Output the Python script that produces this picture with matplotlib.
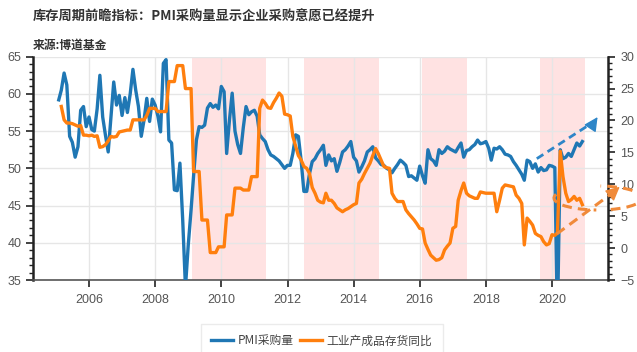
import numpy as np
import pandas as pd
import matplotlib
matplotlib.use("Agg")
import matplotlib.pyplot as plt
import matplotlib.dates as mdates
from matplotlib.ticker import MultipleLocator
from matplotlib.patches import Arc
from matplotlib.transforms import IdentityTransform

plt.rcParams['font.family'] = ['Liberation Sans', 'Noto Sans CJK SC', 'DejaVu Sans']

# PMI采购量, monthly Jan 2005 - Nov 2020
pmi_purchase = [
    59.2, 60.5, 62.8, 61.2, 54.3, 53.5, 51.5, 52.9, 57.8, 58.3, 55.6, 56.9,   # 2005
    55.2, 55.0, 58.0, 62.5, 56.9, 54.5, 52.2, 57.0, 61.6, 58.5, 59.8, 57.1,   # 2006
    59.5, 57.5, 60.0, 63.3, 60.5, 58.3, 54.3, 56.5, 59.4, 56.3, 59.3, 58.5,   # 2007
    57.0, 54.9, 64.1, 64.6, 53.8, 53.4, 47.1, 47.0, 50.7, 43.0, 34.0, 39.7,   # 2008
    44.4, 49.0, 53.8, 55.6, 55.5, 55.8, 58.1, 58.7, 58.2, 58.5, 58.0, 61.0,   # 2009
    60.3, 52.0, 56.5, 60.1, 55.0, 53.2, 52.0, 55.5, 58.3, 57.2, 57.6, 57.8,   # 2010
    57.0, 54.5, 54.0, 53.6, 52.5, 51.8, 51.6, 51.3, 51.0, 50.5, 50.0, 50.4,   # 2011
    50.4, 52.0, 54.5, 54.3, 51.0, 46.9, 46.9, 49.3, 50.9, 51.3, 52.0, 52.5,   # 2012
    53.1, 50.4, 51.8, 51.0, 51.3, 49.6, 50.8, 52.2, 52.5, 53.0, 53.6, 51.5,   # 2013
    51.0, 49.5, 50.2, 51.0, 52.2, 52.5, 52.9, 51.4, 51.0, 50.5, 50.4, 50.0,   # 2014
    49.8, 49.4, 50.0, 50.5, 51.1, 50.8, 50.4, 48.9, 49.0, 48.7, 48.4, 50.3,   # 2015
    49.0, 48.0, 52.5, 51.3, 51.0, 50.4, 52.5, 52.0, 52.3, 52.9, 52.6, 52.4,   # 2016
    52.2, 52.8, 53.4, 51.5, 52.4, 52.5, 52.9, 53.2, 53.8, 53.3, 53.4, 53.6,   # 2017
    52.7, 51.1, 52.7, 52.6, 52.9, 52.5, 51.9, 51.8, 51.6, 50.9, 50.4, 49.8,   # 2018
    49.2, 48.4, 51.1, 50.9, 50.0, 50.6, 49.5, 50.1, 49.7, 49.8, 50.4, 50.3,   # 2019
    50.1, 29.3, 52.5, 51.3, 51.5, 52.0, 51.6, 52.5, 53.4, 53.0, 53.6,         # 2020
]

# 工业产成品存货同比 (%), monthly Feb 2005 - Nov 2020
inventory_yoy = [
    22.2, 20.1, 19.6, 19.6, 19.5, 19.3, 19.1, 19.2, 17.7, 17.7, 17.6,         # 2005
    17.7, 17.5, 17.6, 15.8, 15.9, 16.2, 16.8, 17.5, 17.4, 17.5, 18.2, 18.3,   # 2006
    18.4, 18.5, 18.5, 20.1, 20.1, 20.1, 20.1, 20.1, 20.8, 21.9, 21.9, 21.9,   # 2007
    21.4, 21.4, 21.4, 21.4, 26.1, 26.1, 26.1, 28.6, 28.6, 28.6, 25.0, 25.0,   # 2008
    25.0, 12.0, 12.0, 12.0, 4.4, 4.4, 4.4, -0.7, -0.7, -0.7, 0.2, 0.2,        # 2009
    0.2, 5.2, 5.2, 5.2, 9.4, 9.4, 9.4, 9.1, 9.1, 9.1, 11.2, 11.2,             # 2010
    11.2, 21.9, 23.2, 22.7, 22.0, 21.9, 22.8, 23.5, 24.3, 23.8, 21.0, 20.9,   # 2011
    20.7, 17.5, 16.0, 14.5, 13.8, 12.8, 12.5, 11.7, 9.5, 8.6, 7.5, 7.2,       # 2012
    7.1, 8.6, 7.5, 7.5, 7.0, 6.3, 6.0, 5.7, 6.0, 6.2, 6.5, 6.8,               # 2013
    7.0, 10.2, 10.8, 11.7, 12.5, 13.3, 14.5, 15.6, 14.8, 13.8, 12.8, 12.6,    # 2014
    12.5, 8.6, 7.8, 7.3, 7.3, 7.3, 6.0, 5.4, 4.9, 4.4, 3.8, 3.1,              # 2015
    3.0, 0.8, -0.2, -1.1, -1.5, -1.9, -1.8, -1.5, -0.3, 0.3, 0.8, 3.1,        # 2016
    3.4, 7.5, 9.0, 10.2, 8.6, 8.2, 8.0, 7.8, 7.8, 8.8, 8.7, 8.6,              # 2017
    8.6, 8.6, 8.6, 5.7, 7.5, 9.4, 9.9, 9.8, 9.7, 9.6, 8.3, 7.8,               # 2018
    7.0, 0.5, 4.7, 4.2, 3.6, 2.3, 2.0, 1.8, 1.0, 0.5, 0.7, 2.1,               # 2019
    2.0, 2.4, 15.2, 11.2, 8.6, 7.3, 7.6, 8.1, 7.5, 7.8, 6.8,                  # 2020
]

pmi_dates = pd.date_range("2005-01-31", periods=len(pmi_purchase), freq="ME")
inv_dates = pd.date_range("2005-02-28", periods=len(inventory_yoy), freq="ME")

# shaded phases
periods = [("2009-02-15", "2011-05-05"), ("2012-07-01", "2014-10-05"),
           ("2016-01-25", "2017-06-01"), ("2019-08-20", "2020-12-28")]

title = "库存周期前瞻指标：PMI采购量显示企业采购意愿已经提升"
source = "来源:博道基金"
label_pmi = "PMI采购量"
label_inv = "工业产成品存货同比"

BLUE = "#1f77b4"
ORANGE = "#ff7f0e"
ARROW_BLUE = "#2e86c8"
ARROW_ORANGE = "#f08a3a"
TICK = "#555555"
CJK = ["Noto Sans CJK SC", "DejaVu Sans"]

fig = plt.figure(figsize=(6.37, 3.52), dpi=100)
ax = fig.add_axes([0.0523, 0.2045, 0.9027, 0.6345])
ax2 = ax.twinx()

for start, end in periods:
    ax.axvspan(pd.Timestamp(start), pd.Timestamp(end), color="#ffd6d6", alpha=0.7, lw=0, zorder=0)

ax.grid(True, color="#e6e6e6", lw=1, zorder=1)
ax.set_axisbelow(True)

l1, = ax.plot(pmi_dates, pmi_purchase, color=BLUE, lw=2.4, zorder=3, label=label_pmi)
l2, = ax2.plot(inv_dates, inventory_yoy, color=ORANGE, lw=2.4, zorder=3, label=label_inv)

ax.set_xlim(pd.Timestamp("2004-04-25"), pd.Timestamp("2021-09-13"))
ax.set_ylim(35, 65)
ax2.set_ylim(-5, 30)

ax.xaxis.set_major_locator(mdates.YearLocator(2))
ax.xaxis.set_major_formatter(mdates.DateFormatter("%Y"))
ax.yaxis.set_major_locator(MultipleLocator(5))
ax.yaxis.set_minor_locator(MultipleLocator(1))
ax2.yaxis.set_major_locator(MultipleLocator(5))
ax2.yaxis.set_minor_locator(MultipleLocator(1))

for a in (ax, ax2):
    a.tick_params(axis="both", which="major", labelsize=9, colors="#222222",
                  labelcolor=TICK, length=5, width=1.2)
    a.tick_params(axis="y", which="minor", length=3, width=1, colors="#222222")
    a.spines["top"].set_visible(False)
ax.tick_params(axis="x", pad=5)
ax.spines["left"].set_color("#222222")
ax.spines["left"].set_linewidth(1.8)
ax.spines["bottom"].set_color("#555555")
ax.spines["bottom"].set_linewidth(1.2)
ax.spines["right"].set_visible(False)
ax2.spines["left"].set_visible(False)
ax2.spines["bottom"].set_visible(False)
ax2.spines["right"].set_color("#222222")
ax2.spines["right"].set_linewidth(1.8)

head = "-|>,head_length=0.7,head_width=0.35"

# dashed trend arrows
ax.plot([pd.Timestamp("2019-07-16"), pd.Timestamp("2021-04-25")], [51.3, 56.4],
        color=ARROW_BLUE, lw=2, ls=(0, (2.8, 1.8)), clip_on=False, zorder=5)
ax.annotate("", xy=(pd.Timestamp("2021-06-03"), 57.2), xytext=(pd.Timestamp("2021-04-15"), 56.3),
            arrowprops=dict(arrowstyle=head, color=ARROW_BLUE, lw=1, mutation_scale=12),
            annotation_clip=False, zorder=5)

ax2.plot([pd.Timestamp("2020-02-20"), pd.Timestamp("2021-12-01")], [2.2, 9.0],
         color=ARROW_ORANGE, lw=2.2, ls=(0, (3.2, 2)), clip_on=False, zorder=5)
ax2.annotate("", xy=(pd.Timestamp("2022-02-09"), 9.9), xytext=(pd.Timestamp("2021-11-20"), 8.9),
             arrowprops=dict(arrowstyle=head, color=ARROW_ORANGE, lw=1, mutation_scale=12),
             annotation_clip=False, zorder=5)

# dashed circle around latest readings
for t1, t2 in [(175, 262), (-42, 78)]:
    arc = Arc((598, 352 - 198), 88, 24, theta1=t1, theta2=t2, transform=IdentityTransform(),
              color=ARROW_ORANGE, lw=2.2, ls=(0, (3.2, 2)))
    fig.add_artist(arc)

fig.text(33 / 637, 1 - 17 / 352, title, fontsize=9.5, fontweight="bold", color="#333333",
         va="center", ha="left", family=CJK)
fig.text(33 / 637, 1 - 45 / 352, source, fontsize=8.5, fontweight="bold", color="#333333",
         va="center", ha="left", family=CJK)

leg = fig.legend(handles=[l1, l2], loc="upper center", bbox_to_anchor=(0.505, 0.097), ncol=2,
                 frameon=True, fancybox=False, handlelength=1.8,
                 columnspacing=0.6, handletextpad=0.4, borderpad=0.9,
                 prop={"family": CJK, "size": 8.5})
leg.get_frame().set_edgecolor("#e6e6e6")
leg.get_frame().set_linewidth(1)
for t in leg.get_texts():
    t.set_color("#444444")

fig.savefig("out.png", dpi=100)
